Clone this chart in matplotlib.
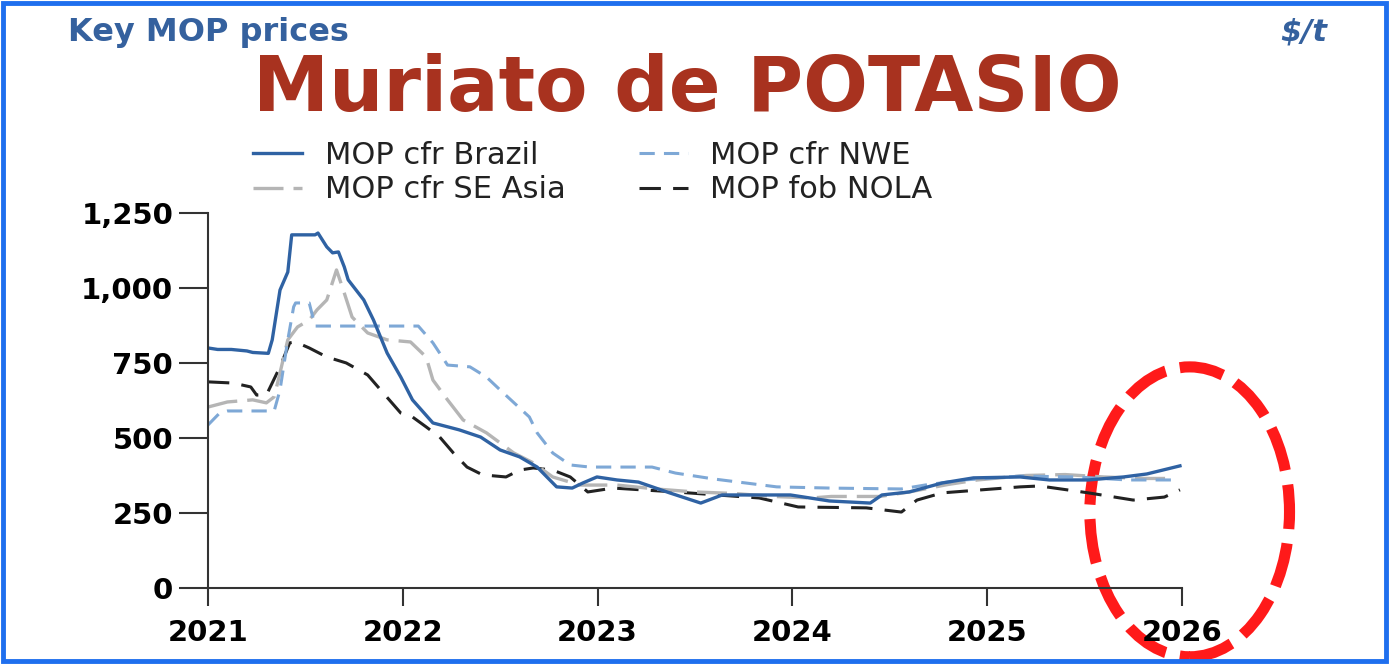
import numpy as np
import matplotlib
matplotlib.use("Agg")
import matplotlib.pyplot as plt
from matplotlib import patches
from matplotlib.ticker import FuncFormatter

# MOP prices, $/t (time in fractional years)
brazil_t = [2021.0, 2021.05, 2021.12, 2021.2, 2021.23, 2021.31, 2021.33, 2021.37, 2021.41, 2021.43,
            2021.55, 2021.565, 2021.61, 2021.64, 2021.67, 2021.70, 2021.72, 2021.80, 2021.85, 2021.92,
            2021.99, 2022.05, 2022.155, 2022.29, 2022.40, 2022.50, 2022.60, 2022.69, 2022.79, 2022.87,
            2022.925, 2022.997, 2023.10, 2023.21, 2023.37, 2023.53, 2023.64, 2023.99, 2024.19, 2024.40,
            2024.46, 2024.60, 2024.77, 2024.93, 2025.17, 2025.32, 2025.52, 2025.70, 2025.82, 2025.99]
brazil = [800, 795, 795, 790, 785, 782, 827, 993, 1053, 1177,
          1177, 1183, 1137, 1117, 1120, 1070, 1027, 960, 893, 783,
          703, 627, 550, 527, 503, 460, 437, 403, 337, 333,
          350, 370, 360, 353, 317, 283, 310, 310, 290, 283,
          310, 320, 350, 367, 370, 360, 360, 370, 380, 407]

nwe_t = [2021.0, 2021.06, 2021.1, 2021.34, 2021.37, 2021.41, 2021.44, 2021.45, 2021.52, 2021.55,
         2022.08, 2022.155, 2022.23, 2022.345, 2022.43, 2022.50, 2022.65, 2022.69, 2022.77, 2022.86,
         2022.96, 2023.28, 2023.40, 2023.60, 2023.92, 2024.19, 2024.56, 2024.68, 2024.88, 2025.17,
         2025.46, 2025.72, 2025.99]
nwe = [543, 583, 590, 590, 660, 827, 937, 950, 950, 873,
       873, 817, 743, 737, 703, 660, 570, 517, 450, 410,
       403, 403, 383, 363, 337, 333, 330, 343, 360, 373,
       370, 360, 360]

asia_t = [2021.0, 2021.10, 2021.23, 2021.30, 2021.34, 2021.37, 2021.41, 2021.46, 2021.52, 2021.56,
          2021.61, 2021.66, 2021.69, 2021.74, 2021.82, 2021.92, 2022.04, 2022.12, 2022.155, 2022.23,
          2022.31, 2022.43, 2022.57, 2022.67, 2022.77, 2022.91, 2023.10, 2023.3, 2023.5, 2023.7,
          2023.9, 2024.1, 2024.2, 2024.45, 2024.6, 2024.8, 2024.95, 2025.2, 2025.4, 2025.6,
          2025.8, 2025.95]
asia = [603, 620, 627, 617, 637, 717, 827, 870, 893, 927,
        960, 1060, 1003, 903, 850, 827, 820, 770, 693, 627,
        560, 517, 450, 417, 370, 343, 343, 330, 320, 315,
        305, 300, 305, 305, 320, 345, 360, 375, 378, 370,
        365, 365]

nola_t = [2021.0, 2021.13, 2021.22, 2021.25, 2021.30, 2021.37, 2021.42, 2021.45, 2021.52, 2021.61,
          2021.71, 2021.82, 2021.90, 2021.99, 2022.05, 2022.12, 2022.19, 2022.26, 2022.33, 2022.41,
          2022.53, 2022.60, 2022.67, 2022.77, 2022.86, 2022.95, 2023.08, 2023.40, 2023.83, 2024.03,
          2024.38, 2024.56, 2024.64, 2024.77, 2024.97, 2025.17, 2025.27, 2025.52, 2025.75, 2025.91,
          2025.99]
nola = [687, 683, 670, 643, 643, 737, 817, 820, 800, 770,
        750, 710, 650, 583, 570, 537, 503, 450, 403, 377,
        370, 393, 400, 393, 370, 320, 333, 320, 300, 270,
        267, 253, 293, 317, 327, 337, 340, 317, 293, 303,
        327]

year_ticks = [2021, 2022, 2023, 2024, 2025, 2026]
price_ticks = [0, 250, 500, 750, 1000, 1250]

fig = plt.figure(figsize=(13.89, 6.64), dpi=100)
ax = fig.add_axes([0.1497, 0.1145, 0.7012, 0.5648])

l_nola, = ax.plot(nola_t, nola, color="#222222", lw=2.2, dashes=(7, 4), label="MOP fob NOLA")
l_asia, = ax.plot(asia_t, asia, color="#b5b5b5", lw=2.4, dashes=(9, 3), label="MOP cfr SE Asia")
l_nwe, = ax.plot(nwe_t, nwe, color="#7ea8d6", lw=2.2, dashes=(5, 3), label="MOP cfr NWE")
l_bra, = ax.plot(brazil_t, brazil, color="#2f62a3", lw=2.4, label="MOP cfr Brazil")

ax.set_xlim(2021, 2026)
ax.set_ylim(0, 1250)
ax.set_xticks(year_ticks)
ax.set_yticks(price_ticks)
ax.yaxis.set_major_formatter(FuncFormatter(lambda v, p: f"{v:,.0f}"))
for s in ["top", "right"]:
    ax.spines[s].set_visible(False)
for s in ["left", "bottom"]:
    ax.spines[s].set_color("#333333")
    ax.spines[s].set_linewidth(1.5)
ax.tick_params(axis="x", length=13, width=1.5, color="#333333", pad=9, labelsize=21)
ax.tick_params(axis="y", length=21, width=1.5, color="#333333", pad=4, labelsize=21)
for lab in ax.get_xticklabels() + ax.get_yticklabels():
    lab.set_fontweight("bold")

fig.legend(handles=[l_bra, l_asia, l_nwe, l_nola], ncol=2, frameon=False,
           loc="upper left", bbox_to_anchor=(0.182, 0.788), fontsize=22,
           borderpad=0, borderaxespad=0,
           handlelength=1.6, handletextpad=0.75, columnspacing=2.4, labelspacing=0.18,
           labelcolor="#222222")

fig.text(0.049, 0.9383, "Key MOP prices", color="#35619e", fontsize=23,
         fontweight="bold", va="baseline", ha="left")
fig.text(0.9554, 0.9383, "$/t", color="#35619e", fontsize=22, fontstyle="italic",
         fontweight="bold", va="baseline", ha="right")
fig.text(0.495, 0.8328, "Muriato de POTASIO", color="#a8321f", fontsize=55,
         fontweight="bold", family="DejaVu Sans", va="baseline", ha="center")

# red dashed highlight ellipse
ax.add_patch(patches.Ellipse((1.008, 0.203), 0.205, 0.773, transform=ax.transAxes,
                             fill=False, ec="#ff1a1a", lw=8, ls=(0, (4, 1.3)), clip_on=False))

# blue frame around the picture
fig.add_artist(patches.Rectangle((0.002, 0.004), 0.996, 0.992, transform=fig.transFigure,
                                 fill=False, ec="#1f6fee", lw=3.5))

fig.savefig("out.png", dpi=100)
